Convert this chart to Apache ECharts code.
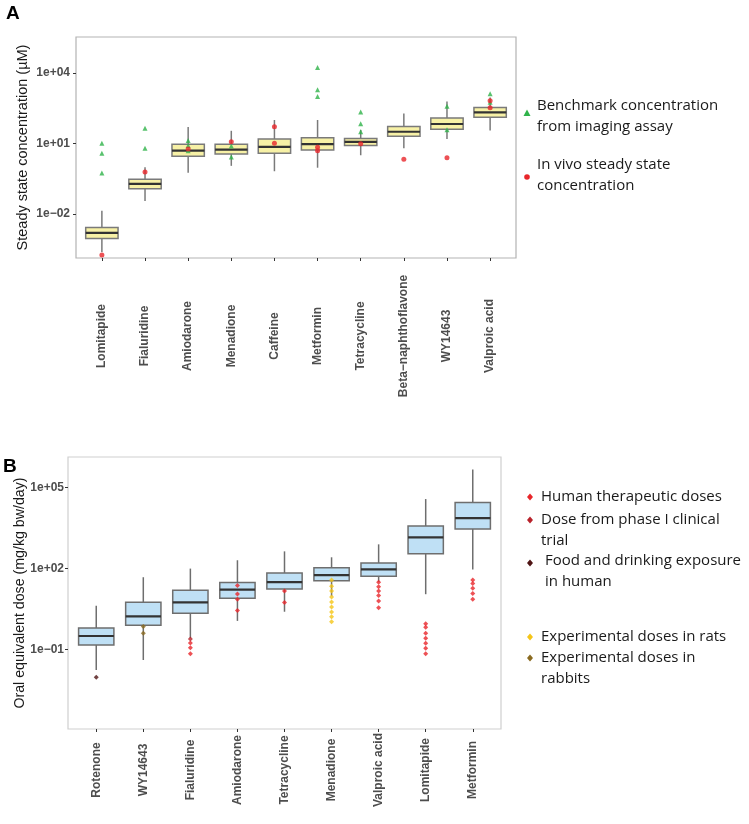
<!DOCTYPE html>
<html>
<head>
<meta charset="utf-8">
<script src="https://cdn.jsdelivr.net/npm/echarts@6/dist/echarts.min.js"></script>
<style>
  html, body { margin: 0; padding: 0; background: #fff; }
  #main { width: 749px; height: 824px; }
</style>
</head>
<body>
<div id="main"></div>
<script>
// panel A: steady state concentration, log10(µM)
var namesA = ['Lomitapide', 'Fialuridine', 'Amiodarone', 'Menadione', 'Caffeine', 'Metformin',
  'Tetracycline', 'Beta−naphthoflavone', 'WY14643', 'Valproic acid'];
// [min, q1, median, q3, max]
var boxA = [
  [-3.62, -3.04, -2.80, -2.57, -1.86],
  [-1.45, -0.92, -0.72, -0.52, -0.01],
  [-0.24, 0.46, 0.70, 0.97, 1.70],
  [0.05, 0.55, 0.74, 0.97, 1.54],
  [-0.18, 0.59, 0.86, 1.19, 2.00],
  [-0.03, 0.72, 0.97, 1.24, 2.00],
  [0.50, 0.91, 1.07, 1.21, 1.58],
  [0.80, 1.31, 1.50, 1.72, 2.28],
  [1.19, 1.61, 1.83, 2.09, 2.79],
  [1.55, 2.12, 2.32, 2.53, 2.96]
];
// [category index, log10 value]
var benchmarkA = [[0, 1.01], [0, 0.59], [0, -0.25], [1, 1.65], [1, 0.80], [2, 1.13], [2, 0.91], [2, 0.69],
  [3, 0.89], [3, 0.43], [5, 4.23], [5, 3.29], [5, 3.00], [6, 2.34], [6, 1.84], [6, 1.50],
  [8, 2.58], [8, 1.59], [9, 3.12], [9, 2.75]];
var invivoA = [[0, -3.74], [1, -0.21], [2, 0.77], [3, 1.07], [4, 1.71], [4, 1.01], [5, 0.84], [5, 0.69],
  [6, 0.99], [7, 0.33], [8, 0.39], [9, 2.82], [9, 2.52]];
var ticksA = [-2, 1, 4];

// panel B: oral equivalent dose, log10(mg/kg bw/day)
var namesB = ['Rotenone', 'WY14643', 'Fialuridine', 'Amiodarone', 'Tetracycline', 'Menadione',
  'Valproic acid', 'Lomitapide', 'Metformin'];
var boxB = [
  [-1.77, -0.84, -0.51, -0.21, 0.61],
  [-1.40, -0.11, 0.22, 0.74, 1.67],
  [-0.59, 0.33, 0.74, 1.19, 1.99],
  [0.05, 0.89, 1.21, 1.47, 2.30],
  [0.39, 1.23, 1.49, 1.83, 2.63],
  [0.97, 1.54, 1.75, 2.02, 2.41],
  [1.50, 1.71, 1.96, 2.20, 2.89],
  [1.04, 2.54, 3.15, 3.57, 4.57],
  [1.96, 3.46, 3.86, 4.44, 5.67]
];
var humanB = [[2, -0.77], [2, -0.95], [2, -1.17], [3, 1.36], [3, 1.05], [3, 0.85], [3, 0.44],
  [4, 1.16], [4, 0.73], [6, 1.48], [6, 1.32], [6, 1.16], [6, 0.99], [6, 0.79], [6, 0.54],
  [7, -0.06], [7, -0.19], [7, -0.41], [7, -0.59], [7, -0.78], [7, -0.96], [7, -1.17],
  [8, 1.57], [8, 1.44], [8, 1.26], [8, 1.07], [8, 0.85]];
var phase1B = [[2, -0.62]];
var foodB = [[0, -2.04]];
var ratsB = [[5, 1.57], [5, 1.34], [5, 1.16], [5, 0.94], [5, 0.75], [5, 0.57], [5, 0.38], [5, 0.20], [5, 0.02]];
var rabbitsB = [[1, -0.16], [1, -0.41]];
var ticksB = [-1, 2, 5];

function expLabel(e) {
  return '1e' + (e < 0 ? '−' : '+') + String(Math.abs(e)).padStart(2, '0');
}

function boxSeries(gi, data, fill, edge) {
  return {
    type: 'custom',
    xAxisIndex: gi, yAxisIndex: gi,
    data: data.map(function (b, i) { return [i].concat(b); }),
    encode: { x: 0, y: [1, 2, 3, 4, 5] },
    renderItem: function (params, api) {
      var i = api.value(0);
      var w = api.size([1, 0])[0] * 0.75;
      var pMin = api.coord([i, api.value(1)]);
      var pQ1 = api.coord([i, api.value(2)]);
      var pMed = api.coord([i, api.value(3)]);
      var pQ3 = api.coord([i, api.value(4)]);
      var pMax = api.coord([i, api.value(5)]);
      var x = pMed[0];
      var line = { stroke: edge, lineWidth: 1.5 };
      return {
        type: 'group',
        children: [
          { type: 'line', shape: { x1: x, y1: pMax[1], x2: x, y2: pQ3[1] }, style: line },
          { type: 'line', shape: { x1: x, y1: pQ1[1], x2: x, y2: pMin[1] }, style: line },
          { type: 'rect', shape: { x: x - w / 2, y: pQ3[1], width: w, height: pQ1[1] - pQ3[1] },
            style: { fill: fill, stroke: edge, lineWidth: 1.5 } },
          { type: 'line', shape: { x1: x - w / 2, y1: pMed[1], x2: x + w / 2, y2: pMed[1] },
            style: { stroke: '#333333', lineWidth: 2.2 } }
        ]
      };
    }
  };
}

function dots(gi, name, data, symbol, size, color) {
  return {
    type: 'scatter', name: name, xAxisIndex: gi, yAxisIndex: gi,
    data: data, symbol: symbol, symbolSize: size,
    itemStyle: { color: color }, z: 5
  };
}

var tickLabel = { color: '#4d4d4d', fontWeight: 'bold', fontSize: 12, fontFamily: 'Liberation Sans' };

function xAxisFor(gi, names, margin) {
  var idx = names.map(function (n, i) { return i; });
  return {
    type: 'value', gridIndex: gi, min: -0.6, max: names.length - 0.4,
    axisLine: { show: false, onZero: false }, splitLine: { show: false },
    axisTick: { show: true, length: 3, customValues: idx, lineStyle: { color: '#333' } },
    axisLabel: Object.assign({
      customValues: idx, rotate: 90, align: 'center', verticalAlign: 'middle', margin: margin,
      formatter: function (v) { return names[Math.round(v)]; }
    }, tickLabel)
  };
}

function yAxisFor(gi, min, max, ticks, name, nameSize, gap, margin) {
  return {
    type: 'value', gridIndex: gi, min: min, max: max,
    name: name, nameLocation: 'middle', nameGap: gap, nameRotate: 90, nameMoveOverlap: false,
    nameTextStyle: { color: '#1a1a1a', fontSize: nameSize, fontFamily: 'Liberation Sans' },
    axisLine: { show: false, onZero: false }, splitLine: { show: false },
    axisTick: { show: true, length: 3, customValues: ticks, lineStyle: { color: '#333' } },
    axisLabel: Object.assign({ customValues: ticks, margin: margin, formatter: expLabel }, tickLabel)
  };
}

var legendFont = '15px "Open Sans"';
function legendText(x, y, text) {
  return { type: 'text', x: x, y: y - 10.5,
    style: { text: text, font: legendFont, fill: '#1a1a1a', lineHeight: 21, verticalAlign: 'top' } };
}
function diamond(x, y, color) {
  return { type: 'polygon', shape: { points: [[x, y - 3.5], [x + 3, y], [x, y + 3.5], [x - 3, y]] },
    style: { fill: color } };
}

var red = '#e8262a', green = '#2fb34a';
var chart = echarts.init(document.getElementById('main'));
chart.setOption({
  animation: false,
  backgroundColor: '#fff',
  grid: [
    { left: 76, top: 37, width: 440, height: 221, show: true, borderColor: '#b3b3b3', borderWidth: 1.2 },
    { left: 68, top: 457, width: 433, height: 272, show: true, borderColor: '#cfcfcf', borderWidth: 1.2 }
  ],
  xAxis: [xAxisFor(0, namesA, 78), xAxisFor(1, namesB, 41)],
  yAxis: [
    yAxisFor(0, -3.87, 5.53, ticksA, 'Steady state concentration (µM)', 14.5, 46, 6),
    yAxisFor(1, -3.96, 6.13, ticksB, 'Oral equivalent dose (mg/kg bw/day)', 14.2, 41, 4)
  ],
  series: [
    boxSeries(0, boxA, '#f7f1a6', '#7a7a7a'),
    dots(0, 'Benchmark concentration from imaging assay', benchmarkA, 'triangle', 5, green),
    dots(0, 'In vivo steady state concentration', invivoA, 'circle', 5, red),
    boxSeries(1, boxB, '#bfe0f5', '#6e6e6e'),
    dots(1, 'Human therapeutic doses', humanB, 'diamond', 5, red),
    dots(1, 'Dose from phase I clinical trial', phase1B, 'diamond', 5, '#b8222a'),
    dots(1, 'Food and drinking exposure in human', foodB, 'diamond', 5, '#4f1414'),
    dots(1, 'Experimental doses in rats', ratsB, 'diamond', 5, '#f5c518'),
    dots(1, 'Experimental doses in rabbits', rabbitsB, 'diamond', 5, '#8a6a20')
  ],
  graphic: [
    { type: 'text', left: 6, top: 4, style: { text: 'A', font: 'bold 19px "Liberation Sans"', fill: '#000' } },
    { type: 'text', left: 3, top: 457, style: { text: 'B', font: 'bold 19px "Liberation Sans"', fill: '#000' } },
    { type: 'polygon', shape: { points: [[527, 109.5], [530.5, 116], [523.5, 116]] }, style: { fill: green } },
    legendText(537, 106, 'Benchmark concentration\nfrom imaging assay'),
    { type: 'circle', shape: { cx: 527, cy: 177, r: 2.8 }, style: { fill: red } },
    legendText(537, 165, 'In vivo steady state\nconcentration'),
    diamond(530, 497, red),
    legendText(541, 497, 'Human therapeutic doses'),
    diamond(530, 520, '#b8222a'),
    legendText(541, 520, 'Dose from phase I clinical\ntrial'),
    diamond(530, 563, '#4f1414'),
    legendText(545, 561, 'Food and drinking exposure\nin human'),
    diamond(530, 637, '#f5c518'),
    legendText(541, 637, 'Experimental doses in rats'),
    diamond(530, 658, '#8a6a20'),
    legendText(541, 658, 'Experimental doses in\nrabbits')
  ]
});
</script>
</body>
</html>
